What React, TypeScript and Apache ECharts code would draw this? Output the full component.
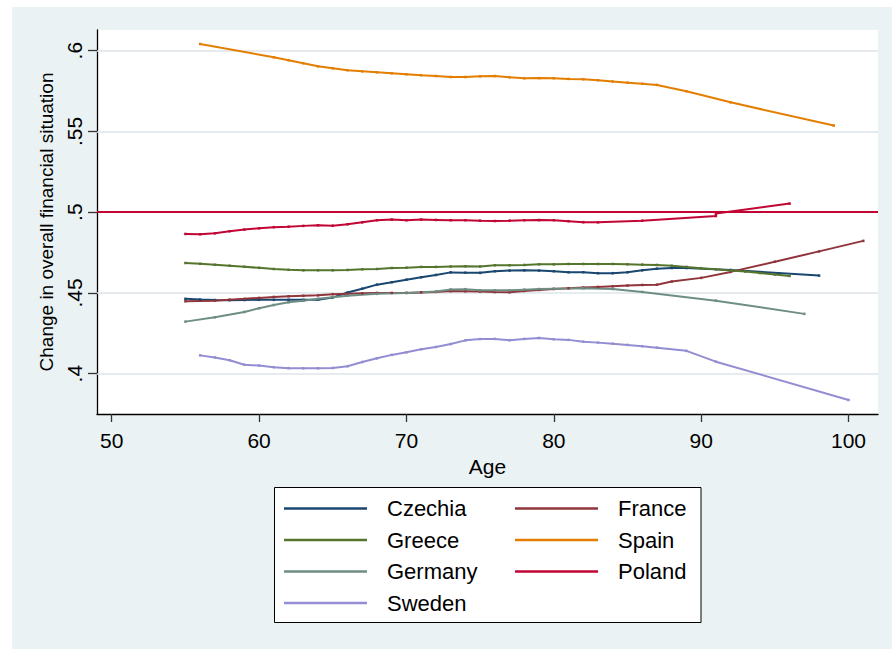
import React, { useEffect, useRef } from 'react';
import * as echarts from 'echarts';

// ---- tick labels ----
const xTickValues = [50, 60, 70, 80, 90, 100];
const yTickValues = [0.4, 0.45, 0.5, 0.55, 0.6];
const yTickLabels = ['.4', '.45', '.5', '.55', '.6'];
const gridLineValues = [0.4, 0.45, 0.55, 0.6];
const referenceValue = 0.5;

// ---- legend columns ----
const legendCol1 = ['Czechia', 'Greece', 'Germany', 'Sweden'];
const legendCol2 = ['France', 'Spain', 'Poland'];

// ---- series values: [age, value] ----
const czechia = [
  [55, 0.4463], [56, 0.4459], [57, 0.4456], [58, 0.4455], [59, 0.4456], [60, 0.4457],
  [61, 0.4457], [62, 0.4457], [63, 0.4457], [64, 0.4458], [65, 0.4471], [66, 0.4502],
  [67, 0.4526], [68, 0.4551], [69, 0.4566], [70, 0.4582], [71, 0.4597], [72, 0.4611],
  [73, 0.4627], [74, 0.4625], [75, 0.4624], [76, 0.4634], [77, 0.4638], [78, 0.464],
  [79, 0.4638], [80, 0.4634], [81, 0.4628], [82, 0.4628], [83, 0.4622], [84, 0.4622],
  [85, 0.4628], [86, 0.464], [87, 0.465], [88, 0.4654], [89, 0.4654], [92, 0.4642],
  [98, 0.4607],
];
const france = [
  [55, 0.4448], [57, 0.4452], [58, 0.4458], [59, 0.4463], [60, 0.4469], [61, 0.4475],
  [62, 0.4479], [63, 0.4482], [64, 0.4485], [65, 0.4492], [66, 0.4494], [67, 0.4497],
  [68, 0.45], [69, 0.45], [70, 0.45], [71, 0.4503], [72, 0.4506], [73, 0.4511],
  [74, 0.451], [75, 0.4508], [76, 0.4505], [77, 0.4504], [78, 0.4512], [79, 0.4518],
  [80, 0.4524], [81, 0.4529], [82, 0.4533], [83, 0.4537], [84, 0.4541], [85, 0.4545],
  [86, 0.4549], [87, 0.4551], [88, 0.457], [90, 0.4593], [92, 0.463], [95, 0.4693],
  [98, 0.4757], [101, 0.4822],
];
const greece = [
  [55, 0.4685], [56, 0.468], [57, 0.4674], [58, 0.4668], [59, 0.4662], [60, 0.4655],
  [61, 0.4648], [62, 0.4643], [63, 0.464], [64, 0.464], [65, 0.464], [66, 0.4642],
  [67, 0.4646], [68, 0.4648], [69, 0.4654], [70, 0.4656], [71, 0.4661], [72, 0.4661],
  [73, 0.4663], [74, 0.4665], [75, 0.4664], [76, 0.4671], [77, 0.4671], [78, 0.4673],
  [79, 0.4677], [80, 0.4677], [81, 0.4679], [82, 0.4679], [83, 0.4679], [84, 0.4679],
  [85, 0.4677], [86, 0.4675], [87, 0.4673], [88, 0.4668], [89, 0.4661], [90, 0.4653],
  [91, 0.4646], [92, 0.4639], [93, 0.4632], [94, 0.4623], [95, 0.4614], [96, 0.4605],
];
const spain = [
  [56, 0.6041], [61, 0.5959], [62, 0.5941], [63, 0.5922], [64, 0.5903], [65, 0.5891],
  [66, 0.5879], [67, 0.5872], [68, 0.5866], [69, 0.586], [70, 0.5854], [71, 0.5848],
  [72, 0.5843], [73, 0.5837], [74, 0.5837], [75, 0.5841], [76, 0.5843], [77, 0.5835],
  [78, 0.5829], [79, 0.583], [80, 0.5829], [81, 0.5825], [82, 0.5823], [83, 0.5817],
  [84, 0.5809], [85, 0.5802], [86, 0.5795], [87, 0.5788], [89, 0.5749], [92, 0.568],
  [99, 0.5536],
];
const germany = [
  [55, 0.4322], [57, 0.4349], [59, 0.4382], [60, 0.4405], [61, 0.4425], [62, 0.4442],
  [63, 0.4452], [64, 0.4463], [65, 0.4473], [66, 0.4483], [68, 0.4494], [70, 0.45],
  [72, 0.4508], [73, 0.4521], [74, 0.4523], [75, 0.4516], [76, 0.4516], [77, 0.4516],
  [78, 0.452], [79, 0.4524], [80, 0.4526], [82, 0.4529], [84, 0.4524], [86, 0.4506],
  [91, 0.4452], [97, 0.437],
];
const poland = [
  [55, 0.4865], [56, 0.4863], [57, 0.4869], [58, 0.4882], [59, 0.4892], [60, 0.49],
  [61, 0.4907], [62, 0.491], [63, 0.4915], [64, 0.4919], [65, 0.4916], [66, 0.4925],
  [67, 0.4937], [68, 0.495], [69, 0.4954], [70, 0.495], [71, 0.4954], [72, 0.4952],
  [73, 0.495], [74, 0.495], [75, 0.4947], [76, 0.4945], [77, 0.4947], [78, 0.495],
  [79, 0.4951], [80, 0.495], [81, 0.4944], [82, 0.4938], [83, 0.4937], [86, 0.4947],
  [91, 0.4976], [91, 0.4991], [96, 0.5053],
];
const sweden = [
  [56, 0.4113], [57, 0.41], [58, 0.4083], [59, 0.4055], [60, 0.405], [61, 0.404],
  [62, 0.4034], [63, 0.4033], [64, 0.4033], [65, 0.4035], [66, 0.4046], [67, 0.4072],
  [68, 0.4095], [69, 0.4116], [70, 0.4132], [71, 0.4151], [72, 0.4165], [73, 0.4183],
  [74, 0.4206], [75, 0.4214], [76, 0.4215], [77, 0.4207], [78, 0.4215], [79, 0.4221],
  [80, 0.4213], [81, 0.4209], [82, 0.4198], [83, 0.4192], [84, 0.4185], [85, 0.4178],
  [86, 0.417], [87, 0.4161], [89, 0.4141], [91, 0.4074], [100, 0.3837],
];

const seriesDefs = [
  { name: 'Czechia', data: czechia, color: '#1A476F' },
  { name: 'France', data: france, color: '#90353B' },
  { name: 'Greece', data: greece, color: '#55752F' },
  { name: 'Spain', data: spain, color: '#E37E00' },
  { name: 'Germany', data: germany, color: '#6E8E84' },
  { name: 'Poland', data: poland, color: '#C10534' },
  { name: 'Sweden', data: sweden, color: '#938DD2' },
];

const FONT = '"Liberation Sans", Arial, Helvetica, sans-serif';

export default function App() {
  const ref = useRef<HTMLDivElement>(null);

  useEffect(() => {
    if (!ref.current) return;
    const chart = echarts.init(ref.current, null, { renderer: 'svg' });

    const legendCommon = {
      orient: 'vertical',
      padding: 0,
      itemGap: 7.5,
      itemWidth: 83,
      itemHeight: 2.5,
      icon: 'rect',
      selectedMode: false,
      textStyle: {
        fontFamily: FONT,
        fontSize: 22,
        lineHeight: 24,
        color: '#000',
        padding: [0, 0, 0, 15],
      },
    };

    chart.setOption({
      animation: false,
      backgroundColor: '#EAF2F3',
      textStyle: { fontFamily: FONT },
      grid: {
        left: 85,
        top: 23,
        width: 781,
        height: 384,
        show: true,
        backgroundColor: '#FFFFFF',
        borderWidth: 0,
        containLabel: false,
        outerBoundsMode: 'none',
      },
      xAxis: {
        type: 'value',
        min: 49,
        max: 102,
        name: 'Age',
        nameLocation: 'middle',
        nameGap: 34,
        nameTextStyle: { fontFamily: FONT, fontSize: 21, color: '#000' },
        axisLine: { show: true, onZero: false, lineStyle: { color: '#000', width: 1.3 } },
        axisTick: { show: true, length: 8, customValues: xTickValues, lineStyle: { color: '#333', width: 1.3 } },
        axisLabel: { customValues: xTickValues, fontFamily: FONT, fontSize: 21, color: '#000', margin: 16 },
        splitLine: { show: false },
      },
      yAxis: {
        type: 'value',
        min: 0.375,
        max: 0.6128,
        name: 'Change in overall financial situation',
        nameLocation: 'middle',
        nameRotate: 90,
        nameGap: 36,
        nameTextStyle: { fontFamily: FONT, fontSize: 19, color: '#000' },
        axisLine: { show: true, onZero: false, lineStyle: { color: '#000', width: 1.3 } },
        axisTick: { show: true, length: 9, customValues: yTickValues, lineStyle: { color: '#333', width: 1.3 } },
        axisLabel: {
          customValues: yTickValues,
          rotate: 90,
          margin: 12,
          fontFamily: FONT,
          fontSize: 21,
          color: '#000',
          formatter: (v: number) => {
            const i = yTickValues.findIndex((t) => Math.abs(t - v) < 1e-6);
            return i >= 0 ? yTickLabels[i] : '';
          },
        },
        splitLine: { show: false },
      },
      legend: [
        { ...legendCommon, data: legendCol1, left: 272, top: 489.5 },
        { ...legendCommon, data: legendCol2, left: 503, top: 489.5 },
      ],
      graphic: [
        {
          type: 'rect',
          z: 1,
          silent: true,
          shape: { x: 262.5, y: 480.5, width: 426.5, height: 135 },
          style: { fill: '#FFFFFF', stroke: '#000', lineWidth: 1 },
        },
      ],
      series: [
        {
          name: 'gridlines',
          type: 'line',
          data: [],
          silent: true,
          z: 1,
          markLine: {
            silent: true,
            z: 1,
            symbol: ['none', 'none'],
            label: { show: false },
            lineStyle: { color: '#DCE5E9', width: 1.5, type: 'solid' },
            data: gridLineValues.map((v) => ({ yAxis: v })),
          },
        },
        {
          name: 'reference',
          type: 'line',
          data: [],
          silent: true,
          z: 2,
          markLine: {
            silent: true,
            z: 2,
            symbol: ['none', 'none'],
            label: { show: false },
            lineStyle: { color: '#C10534', width: 1.8, type: 'solid' },
            data: [{ yAxis: referenceValue }],
          },
        },
        ...seriesDefs.map((s) => ({
          name: s.name,
          type: 'line',
          data: s.data,
          color: s.color,
          z: 3,
          showSymbol: true,
          symbol: 'rect',
          symbolSize: 2.5,
          lineStyle: { width: 2, color: s.color },
          itemStyle: { color: s.color },
          emphasis: { disabled: true },
        })),
      ],
    });

    return () => chart.dispose();
  }, []);

  return (
    <div
      ref={ref}
      style={{ position: 'absolute', left: 12, top: 7, width: 880, height: 642 }}
    />
  );
}
